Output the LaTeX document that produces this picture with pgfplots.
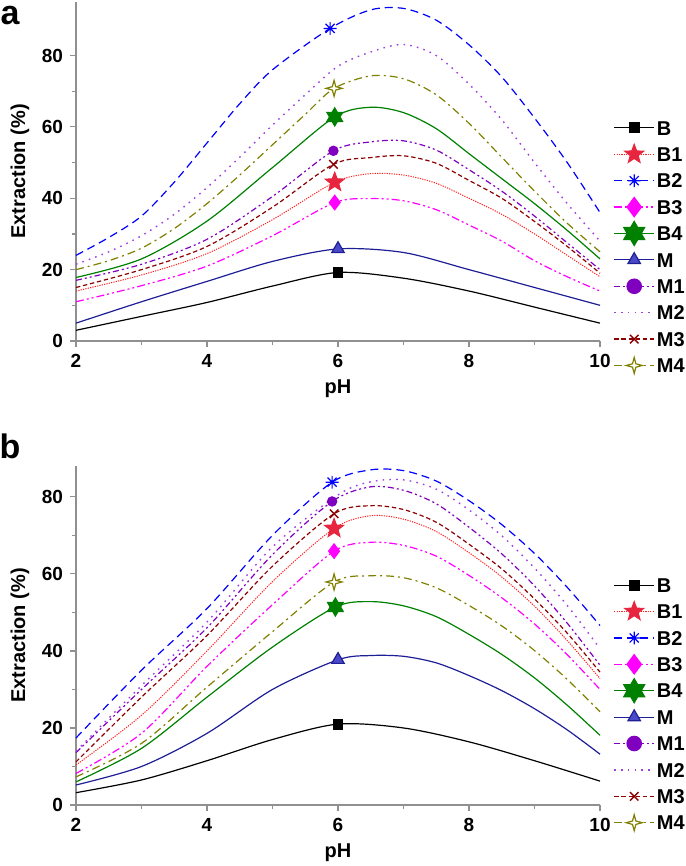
\documentclass[border=0pt]{standalone}
\usepackage{fontspec}
\setmainfont{Liberation Sans}
\usepackage{pgfplots}
\pgfplotsset{compat=1.18}

% marks
\pgfdeclareplotmark{fstar}{%
  \pgfpathmoveto{\pgfpointpolar{90}{\pgfplotmarksize}}
  \pgfpathlineto{\pgfpointpolar{126}{0.42\pgfplotmarksize}}
  \pgfpathlineto{\pgfpointpolar{162}{\pgfplotmarksize}}
  \pgfpathlineto{\pgfpointpolar{198}{0.42\pgfplotmarksize}}
  \pgfpathlineto{\pgfpointpolar{234}{\pgfplotmarksize}}
  \pgfpathlineto{\pgfpointpolar{270}{0.42\pgfplotmarksize}}
  \pgfpathlineto{\pgfpointpolar{306}{\pgfplotmarksize}}
  \pgfpathlineto{\pgfpointpolar{342}{0.42\pgfplotmarksize}}
  \pgfpathlineto{\pgfpointpolar{18}{\pgfplotmarksize}}
  \pgfpathlineto{\pgfpointpolar{54}{0.42\pgfplotmarksize}}
  \pgfpathclose\pgfusepathqfillstroke}
\pgfdeclareplotmark{fhex}{%
  \pgfpathmoveto{\pgfpointpolar{90}{\pgfplotmarksize}}
  \pgfpathlineto{\pgfpointpolar{120}{0.58\pgfplotmarksize}}
  \pgfpathlineto{\pgfpointpolar{150}{\pgfplotmarksize}}
  \pgfpathlineto{\pgfpointpolar{180}{0.58\pgfplotmarksize}}
  \pgfpathlineto{\pgfpointpolar{210}{\pgfplotmarksize}}
  \pgfpathlineto{\pgfpointpolar{240}{0.58\pgfplotmarksize}}
  \pgfpathlineto{\pgfpointpolar{270}{\pgfplotmarksize}}
  \pgfpathlineto{\pgfpointpolar{300}{0.58\pgfplotmarksize}}
  \pgfpathlineto{\pgfpointpolar{330}{\pgfplotmarksize}}
  \pgfpathlineto{\pgfpointpolar{0}{0.58\pgfplotmarksize}}
  \pgfpathlineto{\pgfpointpolar{30}{\pgfplotmarksize}}
  \pgfpathlineto{\pgfpointpolar{60}{0.58\pgfplotmarksize}}
  \pgfpathclose\pgfusepathqfillstroke}
\pgfdeclareplotmark{fourstar}{%
  \pgfpathmoveto{\pgfpointpolar{90}{\pgfplotmarksize}}
  \pgfpathlineto{\pgfpointpolar{135}{0.3\pgfplotmarksize}}
  \pgfpathlineto{\pgfpointpolar{180}{\pgfplotmarksize}}
  \pgfpathlineto{\pgfpointpolar{225}{0.3\pgfplotmarksize}}
  \pgfpathlineto{\pgfpointpolar{270}{\pgfplotmarksize}}
  \pgfpathlineto{\pgfpointpolar{315}{0.3\pgfplotmarksize}}
  \pgfpathlineto{\pgfpointpolar{0}{\pgfplotmarksize}}
  \pgfpathlineto{\pgfpointpolar{45}{0.3\pgfplotmarksize}}
  \pgfpathclose\pgfusepathqfillstroke}
\pgfdeclareplotmark{star8}{%
  \pgfpathmoveto{\pgfpointpolar{0}{\pgfplotmarksize}}\pgfpathlineto{\pgfpointpolar{180}{\pgfplotmarksize}}
  \pgfpathmoveto{\pgfpointpolar{45}{\pgfplotmarksize}}\pgfpathlineto{\pgfpointpolar{225}{\pgfplotmarksize}}
  \pgfpathmoveto{\pgfpointpolar{90}{\pgfplotmarksize}}\pgfpathlineto{\pgfpointpolar{270}{\pgfplotmarksize}}
  \pgfpathmoveto{\pgfpointpolar{135}{\pgfplotmarksize}}\pgfpathlineto{\pgfpointpolar{315}{\pgfplotmarksize}}
  \pgfusepathqstroke}

\definecolor{cB1}{HTML}{FF2020}
\definecolor{cB1f}{HTML}{E8253F}
\definecolor{cB2}{HTML}{0000FF}
\definecolor{cB3}{HTML}{FF00FF}
\definecolor{cB4}{HTML}{008000}
\definecolor{cM}{HTML}{1E1E96}
\definecolor{cMf}{HTML}{4A4AC8}
\definecolor{cM1}{HTML}{8000C0}
\definecolor{cM2}{HTML}{A040E0}
\definecolor{cM3}{HTML}{8B0000}
\definecolor{cM4}{HTML}{808000}
\definecolor{axgray}{HTML}{909090}

\tikzset{
  lB/.style={black, solid, line width=0.6pt},
  mB/.style={mark=square*, mark size=2.4pt, mark options={solid, fill=black}},
  lB1/.style={cB1, line width=0.5pt, dash pattern=on 0.6pt off 0.6pt},
  mB1/.style={mark=fstar, mark size=5pt, mark options={solid, fill=cB1f, draw=cB1f}},
  lB2/.style={cB2, line width=0.6pt, dash pattern=on 4pt off 2.5pt},
  mB2/.style={mark=star8, mark size=3.2pt, mark options={solid, line width=0.6pt}},
  lB3/.style={cB3, line width=0.6pt, dash pattern=on 4pt off 1.5pt on 1pt off 1.5pt on 1pt off 1.5pt},
  mB3/.style={mark=diamond*, mark size=3.6pt, mark options={solid, fill=cB3}},
  lB4/.style={cB4, line width=0.6pt, solid},
  mB4/.style={mark=fhex, mark size=4.5pt, mark options={solid, fill=cB4}},
  lM/.style={cM, line width=0.6pt, solid},
  mM/.style={mark=triangle*, mark size=3.6pt, mark options={solid, fill=cMf, draw=cM}},
  lM1/.style={cM1, line width=0.6pt, dash pattern=on 3pt off 1.5pt on 1pt off 1.5pt on 1pt off 1.5pt},
  mM1/.style={mark=*, mark size=2.3pt, mark options={solid, fill=cM1}},
  lM2/.style={cM2, line width=0.7pt, dash pattern=on 0.8pt off 2.6pt},
  lM3/.style={cM3, line width=0.6pt, dash pattern=on 2.2pt off 1.4pt},
  mM3/.style={mark=x, mark size=3pt, mark options={solid, line width=0.7pt}},
  lM4/.style={cM4, line width=0.6pt, dash pattern=on 4pt off 2pt on 1pt off 2pt},
  mM4/.style={mark=fourstar, mark size=4pt, mark options={solid, fill=white}},
}

% curve + single marker + legend row (#6: extra options for the legend mark)
\newcommand\series[6]{%
  \addplot[#1, smooth, forget plot] coordinates {#4};
  \addplot[#1, #2, only marks, forget plot] coordinates {#5};
  \addlegendimage{#1,#2,#6}\addlegendentry{#3}}

\pgfplotsset{
  panel/.style={
    scale only axis, width=262pt, height=169.5pt,
    xmin=2, xmax=10, ymin=0,
    axis x line*=bottom, axis y line*=left,
    axis line style={axgray, line width=0.6pt, -},
    xtick={2,4,6,8,10}, ytick={0,20,40,60,80},
    minor x tick num=1, minor y tick num=1,
    tick align=outside, major tick length=3pt, minor tick length=2pt,
    every tick/.style={axgray, line width=0.6pt},
    /pgf/number format/assume math mode=true,
    tick label style={font=\fontsize{9.5}{11}\selectfont\bfseries},
    xlabel={pH}, ylabel={Extraction (\%)},
    every axis x label/.style={at={(axis description cs:0.5,-0.14)}, anchor=center, font=\fontsize{10}{12}\selectfont\bfseries},
    every axis y label/.style={at={(axis description cs:-0.107,0.5)}, rotate=90, anchor=center, font=\fontsize{10}{12}\selectfont\bfseries},
    legend image code/.code={%
      \draw[##1] (0pt,0pt) -- (20pt,0pt);
      \draw[##1, only marks, overlay] plot coordinates {(10pt,0pt)};},
    legend style={draw=none, fill=none, anchor=north west,
      font=\fontsize{10}{12}\selectfont\bfseries,
      row sep=4pt, inner sep=0pt,
      nodes={inner sep=1pt, text height=7.2pt, text depth=0pt}},
    legend cell align=left,
    clip=false,
  },
}

\begin{document}
\begin{tikzpicture}
\path[use as bounding box] (0pt,0pt) rectangle (342.5pt,-433pt);

% ---- panel a ----
\begin{axis}[panel, at={(38pt,-170.5pt)}, anchor=south west, ymax=95,
  legend style={at={(axis description cs:1.025,0.657)}}]
\series{lB}{mB}{B}{(2,3) (3,6.9) (4,10.8) (5,15.4) (6,19.2) (7,17.6) (8,14) (9,9.5) (10,5)}{(6,19.2)}{}
\series{lB1}{mB1}{B1}{(2,14) (3,18.5) (4,24.5) (5,34) (5.95,44.5) (6.5,46.9) (7,46.5) (7.5,44.2) (8,40) (8.5,35.5) (9,30) (9.5,24) (10,18)}{(5.95,44.5)}{}
\series{lB2}{mB2}{B2}{(2,24) (2.5,29) (3,35) (3.5,44.5) (4,55.5) (4.5,66.5) (5,76) (5.88,87.6) (6.5,92.8) (7,93.2) (7.5,89.9) (8,83) (8.5,74) (9,62.5) (9.5,50) (10,36)}{(5.88,87.6)}{}
\series{lB3}{mB3}{B3}{(2,11) (3,15.5) (4,21) (5,29.5) (5.95,38.8) (6.5,39.9) (7,39.3) (7.5,36.8) (8,32.5) (8.5,28) (9,22.5) (9.5,18) (10,14)}{(5.95,38.8)}{mark size=4.8pt}
\series{lB4}{mB4}{B4}{(2,17.8) (3,23) (4,33.6) (5,48.6) (5.95,62.8) (6.5,65.5) (7,64) (7.5,59.5) (8,52.5) (8.5,45.5) (9,38.5) (9.5,31) (10,23)}{(5.95,62.8)}{mark size=6pt}
\series{lM}{mM}{M}{(2,5) (3,11) (4,16.7) (5,22.3) (6,25.8) (7,24.8) (8,20) (9,15) (10,10)}{(6,25.8)}{}
\series{lM1}{mM1}{M1}{(2,17) (3,21.5) (4,28.5) (5,40.5) (5.93,53.3) (6.5,55.8) (7,56.1) (7.5,53.5) (8,48) (8.5,42) (9,35) (9.5,27.5) (10,20)}{(5.93,53.3)}{mark size=3.6pt}
\addplot[lM2, smooth] coordinates {(2,21.5) (2.5,25) (3,29.5) (3.5,35.5) (4,43) (4.5,51.5) (5,60.5) (5.5,69) (6,77) (6.5,81) (7,83.1) (7.5,80) (8,72) (8.5,62) (9,50) (9.5,38.5) (10,28)};
\addlegendentry{M2}
\series{lM3}{mM3}{M3}{(2,15) (3,20) (4,26.5) (5,37.5) (5.93,49.5) (6.5,51.4) (7,51.9) (7.5,49.8) (8,45) (8.5,40) (9,33.5) (9.5,26.5) (10,19)}{(5.93,49.5)}{}
\series{lM4}{mM4}{M4}{(2,20) (2.5,22.5) (3,26) (3.5,31.5) (4,38.5) (4.5,46.5) (5,55) (5.5,63.5) (5.94,70.8) (6.5,74.3) (7,73.5) (7.5,69) (8,61) (8.5,51.5) (9,42) (9.5,33) (10,25)}{(5.94,70.8)}{}
\node[font=\fontsize{17}{20}\selectfont\bfseries] at (axis description cs:-0.126,0.959) {a};
\end{axis}

% ---- panel b ----
\begin{axis}[panel, at={(38pt,-402.5pt)}, anchor=south west, ymax=88,
  legend style={at={(axis description cs:1.025,0.677)}}]
\series{lB}{mB}{B}{(2,3.2) (3,6.5) (4,11.5) (5,17) (6,21) (7,20) (8,16.4) (9,11.5) (10,6.2)}{(6,21)}{}
\series{lB1}{mB1}{B1}{(2,10.4) (3,23.3) (4,40) (5,58) (5.94,71.8) (6.5,75.1) (7,74.2) (7.5,71) (8,65.5) (8.5,59.2) (9,51.6) (9.5,42.7) (10,32.8)}{(5.94,71.8)}{}
\series{lB2}{mB2}{B2}{(2,17.4) (3,35) (4,51) (5,70) (5.91,83.8) (6.5,87) (7,86.8) (7.5,84.1) (8,79) (8.5,72.8) (9,65.3) (9.5,56.5) (10,46.6)}{(5.91,83.8)}{}
\series{lB3}{mB3}{B3}{(2,8.2) (3,18.6) (4,36) (5,52) (5.94,65.9) (6.5,68.2) (7,67.4) (7.5,64.6) (8,59.6) (8.5,53.8) (9,47) (9.5,39) (10,30)}{(5.94,65.9)}{mark size=4.8pt}
\series{lB4}{mB4}{B4}{(2,6) (3,14.7) (4,28) (5,41) (5.96,51.4) (6.5,52.8) (7,51.7) (7.5,48.9) (8,44.3) (8.5,39.1) (9,33) (9.5,25.9) (10,18.1)}{(5.96,51.4)}{mark size=6pt}
\series{lM}{mM}{M}{(2,5.2) (3,10) (4,18.6) (5,30) (6,37.7) (6.5,38.8) (7,38.6) (7.5,36.9) (8,33.6) (8.5,29.7) (9,25) (9.5,19.5) (10,13.2)}{(6,37.7)}{}
\series{lM1}{mM1}{M1}{(2,13.6) (3,30) (4,46) (5,65) (5.91,78.8) (6.5,82.6) (7,81.7) (7.5,78.2) (8,72.1) (8.5,65.2) (9,56.9) (9.5,47.2) (10,36.3)}{(5.91,78.8)}{mark size=3.6pt}
\addplot[lM2, smooth] coordinates {(2,14) (3,31) (4,47.5) (5,67) (6,80.5) (6.5,83.9) (7,84.4) (7.5,82) (8,76.6) (8.5,69.9) (9,61.5) (9.5,51.8) (10,40.6)};
\addlegendentry{M2}
\series{lM3}{mM3}{M3}{(2,11.2) (3,28) (4,44) (5,62) (5.94,75.6) (6.5,77.7) (7,76.7) (7.5,73.4) (8,67.7) (8.5,61.3) (9,53.5) (9.5,44.6) (10,34.5)}{(5.94,75.6)}{}
\series{lM4}{mM4}{M4}{(2,7.3) (3,16) (4,30.6) (5,45) (5.94,57.9) (6.5,59.5) (7,59) (7.5,56.4) (8,51.8) (8.5,46.5) (9,40.1) (9.5,32.6) (10,24.2)}{(5.94,57.9)}{}
\node[font=\fontsize{17}{20}\selectfont\bfseries] at (axis description cs:-0.126,1.059) {b};
\end{axis}
\end{tikzpicture}
\end{document}
